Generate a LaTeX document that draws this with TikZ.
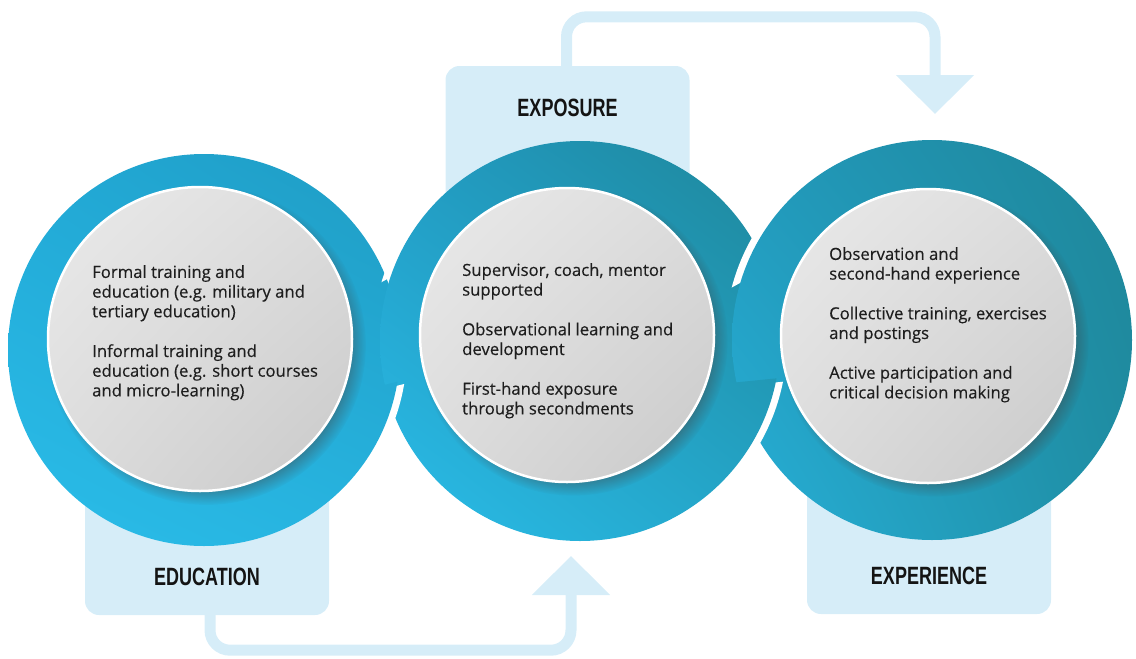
\documentclass[tikz,border=0pt]{standalone}
\usepackage{fontspec}
\setmainfont{Open Sans}[FakeBold=0.35]
\newfontfamily\headfont[FakeStretch=0.72]{Liberation Sans}
\usetikzlibrary{positioning,arrows.meta,shadows,shadings}
\definecolor{boxblue}{HTML}{D6EDF8}
\definecolor{textgray}{HTML}{1E1E1E}
\tikzstyle{panel} = [fill=boxblue, rounded corners=14pt, minimum width=244pt, inner sep=0pt]
\tikzstyle{title} = [font=\headfont\bfseries\fontsize{25}{25}\selectfont, text=black!92, inner sep=0pt]
\tikzstyle{flow} = [draw=boxblue, line width=11pt, rounded corners=20pt, -{Triangle[width=76pt,length=39pt]}]
\tikzstyle{leftring} = [upper left=Cyan3, upper right=Cyan4, lower left=Cyan1, lower right=Cyan2]
\tikzstyle{body} = [align=left, anchor=north west, inner sep=0pt, text=textgray, font=\fontsize{16.7}{19.7}\selectfont]
\tikzstyle{disc} = [circle, inner sep=0pt, draw=white, line width=2.5pt,
  upper left=Gray1, upper right=Gray2, lower left=Gray2, lower right=Gray3,
  circular drop shadow={shadow xshift=6pt, shadow yshift=-6pt, shadow scale=1.05, opacity=.6, fill=black!75}]
\definecolor{Cyan1}{HTML}{2ABDE9}
\definecolor{Cyan2}{HTML}{27B3DF}
\definecolor{Cyan3}{HTML}{22A9D6}
\definecolor{Cyan4}{HTML}{1F9CC3}
\definecolor{Gray1}{HTML}{EAEAEA}
\definecolor{Gray2}{HTML}{DCDCDC}
\definecolor{Gray3}{HTML}{C9C9C9}
\tikzstyle{midring} = [upper left=Teal1, upper right=Teal2, lower left=Cyan1, lower right=Teal3]
\tikzstyle{rightring} = [upper left=Teal4, upper right=Teal2, lower left=Teal5, lower right=Teal6]
\definecolor{Teal1}{HTML}{229CC4}
\definecolor{Teal2}{HTML}{1E8699}
\definecolor{Teal3}{HTML}{24A5C8}
\definecolor{Teal4}{HTML}{2299BB}
\definecolor{Teal5}{HTML}{27B0D8}
\definecolor{Teal6}{HTML}{1F8EA4}

\begin{document}
\begin{tikzpicture}[x=1pt,y=-1pt]
    \useasboundingbox (0,0) rectangle (1136,659);
    % panels behind the rings
    \node[panel, minimum height=200pt] (edubox) at (207,515) {};
    \node[panel, minimum height=240pt] (exposbox) at (567.5,186) {};
    \node[panel, minimum height=200pt] (experbox) at (929,514) {};
    \node[title, above=29pt of edubox.south] (edulabel) {EDUCATION};
    \node[title, below=33pt of exposbox.north] (exposlabel) {EXPOSURE};
    \node[title, above=29pt of experbox.south] (experlabel) {EXPERIENCE};
    \coordinate (exposin) at (571,556);
    \coordinate (experin) at (935,114);
    \draw[flow] ([xshift=3pt]edubox.south) -- ++(0,35) -| (exposin);
    \draw[flow] ([xshift=-1pt]exposbox.north) -- ++(0,-49) -| (experin);
    % rings, linked like a chain
    \shade[leftring] (204,350) circle (196);
    \begin{scope}
        \clip (340,0) -- (440,0) -- (440,250) -- (340,305) -- cycle;
        \fill[white] (580,341) circle (207);
    \end{scope}
    \shade[midring] (580,341) circle (200);
    \begin{scope}
        \clip (340,400) -- (440,375) -- (480,600) -- (340,600) -- cycle;
        \fill[white] (204,350) circle (203);
    \end{scope}
    \begin{scope}
        \clip (340,396) -- (440,371) -- (480,600) -- (340,600) -- cycle;
        \shade[leftring] (204,350) circle (196);
    \end{scope}
    \begin{scope}
        \clip (700,0) -- (800,0) -- (800,250) -- (700,305) -- cycle;
        \fill[white] (932,340) circle (207);
    \end{scope}
    \shade[rightring] (932,340) circle (200);
    \begin{scope}
        \clip (700,390) -- (800,380) -- (805,600) -- (700,600) -- cycle;
        \fill[white] (580,341) circle (207);
    \end{scope}
    \begin{scope}
        \clip (700,386) -- (800,376) -- (805,600) -- (700,600) -- cycle;
        \shade[midring] (580,341) circle (200);
    \end{scope}
    % discs
    \node[disc, minimum size=304pt] (edudisc) at (200,339) {};
    \node[disc, minimum size=294pt] (exposdisc) at (567,335) {};
    \node[disc, minimum size=294pt] (experdisc) at (928,336) {};
    \node[body] (edutext) at (92,265) {Formal training and\\education (e.g. military and\\tertiary education)\\[20pt]Informal training and\\education (e.g. short courses\\and micro-learning)};
    \node[body] (expostext) at (462,263) {Supervisor, coach, mentor\\supported\\[20pt]Observational learning and\\development\\[20pt]First-hand exposure\\through secondments};
    \node[body] (expertext) at (829,247) {Observation and\\second-hand experience\\[20pt]Collective training, exercises\\and postings\\[20pt]Active participation and\\critical decision making};
\end{tikzpicture}
\end{document}
